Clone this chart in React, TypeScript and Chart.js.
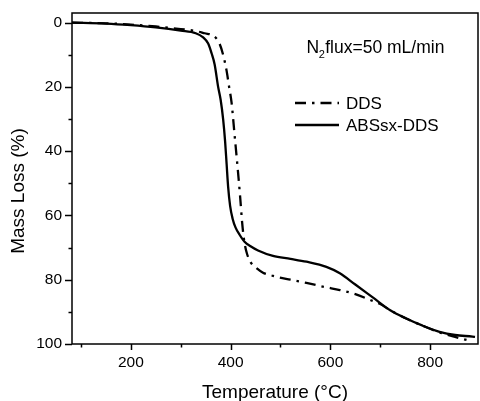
import React, { useEffect, useRef } from "react";
import { Chart, registerables } from "chart.js";

Chart.register(...registerables);

// ---- data ----
const ddsTemp = [82, 150, 200, 250, 300, 330, 348, 365, 372, 378, 385, 392, 397, 402, 408, 414, 419, 423, 426, 429, 433, 440, 449, 465, 485, 520, 552, 590, 619, 650, 680, 699, 720, 751, 785, 819, 850, 875];
const ddsLoss = [0, 0.2, 0.6, 1.2, 2.0, 2.6, 3.3, 4.0, 5.0, 6.6, 10, 15, 20, 25, 35, 45, 54, 62, 66.5, 69.5, 72, 74.5, 76, 77.8, 78.8, 80, 81, 82.3, 83.2, 84.5, 86.3, 87.5, 89.5, 92, 94.3, 96.4, 97.8, 98.8];

const absTemp = [82, 150, 200, 250, 300, 330, 345, 355, 362, 368, 375, 380, 385, 389, 392, 395, 399, 404, 410, 418, 428, 440, 455, 485, 520, 552, 592, 619, 650, 685, 720, 751, 785, 819, 850, 885, 890];
const absLoss = [0, 0.3, 0.8, 1.5, 2.5, 3.3, 4.6, 6.5, 9.6, 13, 20, 24, 30, 37, 44, 51, 57, 61, 63.8, 66, 68.2, 69.6, 70.9, 72.6, 73.5, 74.4, 76, 78, 81.5, 85.5, 89.5, 92, 94.3, 96.2, 97.2, 97.7, 97.8];

const seriesLabels = ["DDS", "ABSsx-DDS"];
const xMajorTicks = [200, 400, 600, 800];
const xMinorTicks = [100, 300, 500, 700];
const yMajorTicks = [0, 20, 40, 60, 80, 100];
const yMinorTicks = [10, 30, 50, 70, 90];
const xTitle = "Temperature (°C)";
const yTitle = "Mass Loss (%)";
const noteMain = "N";
const noteSub = "2";
const noteRest = "flux=50 mL/min";

const FONT = "Arial, 'Liberation Sans', Helvetica, sans-serif";
const DASH_DOT = [11, 6, 2.5, 6];

const decorPlugin = {
  id: "decor",
  afterDraw(chart: any) {
    const { ctx, chartArea: a, scales } = chart;
    const x = scales.x;
    const y = scales.y;
    ctx.save();
    ctx.strokeStyle = "#000";
    ctx.lineWidth = 1.5;
    ctx.setLineDash([]);
    ctx.strokeRect(a.left, a.top, a.right - a.left, a.bottom - a.top);

    ctx.beginPath();
    for (const v of xMajorTicks) {
      const px = Math.round(x.getPixelForValue(v)) + 0.5;
      ctx.moveTo(px, a.bottom);
      ctx.lineTo(px, a.bottom + 6);
    }
    for (const v of xMinorTicks) {
      const px = Math.round(x.getPixelForValue(v)) + 0.5;
      ctx.moveTo(px, a.bottom);
      ctx.lineTo(px, a.bottom + 3.5);
    }
    for (const v of yMajorTicks) {
      const py = Math.round(y.getPixelForValue(v)) + 0.5;
      ctx.moveTo(a.left, py);
      ctx.lineTo(a.left - 7, py);
    }
    for (const v of yMinorTicks) {
      const py = Math.round(y.getPixelForValue(v)) + 0.5;
      ctx.moveTo(a.left, py);
      ctx.lineTo(a.left - 3.5, py);
    }
    ctx.stroke();

    ctx.fillStyle = "#000";
    // axis titles
    ctx.font = `19px ${FONT}`;
    ctx.textAlign = "center";
    ctx.textBaseline = "middle";
    ctx.fillText(xTitle, (a.left + a.right) / 2, a.bottom + 49);
    ctx.save();
    ctx.translate(19, 191);
    ctx.rotate(-Math.PI / 2);
    ctx.fillText(yTitle, 0, 0);
    ctx.restore();

    // note
    ctx.textAlign = "left";
    ctx.textBaseline = "alphabetic";
    const nx = a.left + 234.5;
    const ny = 52.5;
    ctx.font = `17.5px ${FONT}`;
    ctx.fillText(noteMain, nx, ny);
    const nw = ctx.measureText(noteMain).width;
    ctx.font = `11px ${FONT}`;
    ctx.fillText(noteSub, nx + nw - 0.5, ny + 5);
    const sw = ctx.measureText(noteSub).width;
    ctx.font = `17.5px ${FONT}`;
    ctx.fillText(noteRest, nx + nw + sw, ny);

    // legend
    const lx0 = a.left + 223;
    const lx1 = a.left + 267;
    const ly = [103, 125];
    const dashes = [DASH_DOT, []];
    ctx.lineWidth = 2.3;
    for (let i = 0; i < 2; i++) {
      ctx.setLineDash(dashes[i]);
      ctx.beginPath();
      ctx.moveTo(lx0, ly[i]);
      ctx.lineTo(lx1, ly[i]);
      ctx.stroke();
    }
    ctx.setLineDash([]);
    ctx.font = `17px ${FONT}`;
    ctx.textBaseline = "middle";
    for (let i = 0; i < 2; i++) {
      ctx.fillText(seriesLabels[i], a.left + 274, ly[i] + 1);
    }
    ctx.restore();
  },
};

export default function App() {
  const ref = useRef<HTMLCanvasElement | null>(null);
  useEffect(() => {
    if (!ref.current) return;
    const chart = new Chart(ref.current, {
      type: "line",
      data: {
        datasets: [
          {
            label: seriesLabels[0],
            data: ddsTemp.map((t, i) => ({ x: t, y: ddsLoss[i] })),
            borderColor: "#000",
            borderWidth: 2.3,
            borderDash: DASH_DOT,
            pointRadius: 0,
            cubicInterpolationMode: "monotone",
            fill: false,
          },
          {
            label: seriesLabels[1],
            data: absTemp.map((t, i) => ({ x: t, y: absLoss[i] })),
            borderColor: "#000",
            borderWidth: 2.3,
            pointRadius: 0,
            cubicInterpolationMode: "monotone",
            fill: false,
          },
        ],
      },
      options: {
        responsive: false,
        animation: false,
        devicePixelRatio: 1,
        layout: { autoPadding: false, padding: { top: 13, right: 2, left: 0, bottom: 0 } },
        plugins: { legend: { display: false }, tooltip: { enabled: false } },
        scales: {
          x: {
            type: "linear",
            min: 82,
            max: 896,
            afterFit: (s: any) => {
              s.height = 57;
              s.paddingLeft = 0;
              s.paddingRight = 0;
            },
            afterBuildTicks: (s: any) => {
              s.ticks = xMajorTicks.map((v) => ({ value: v }));
            },
            grid: { display: true, drawOnChartArea: false, drawTicks: false },
            border: { display: false },
            ticks: {
              padding: 9,
              color: "#000",
              font: { family: FONT, size: 15.5 },
              maxRotation: 0,
              autoSkip: false,
            },
          },
          y: {
            type: "linear",
            min: -3,
            max: 100,
            reverse: true,
            afterFit: (s: any) => {
              s.width = 72;
              s.paddingTop = 0;
              s.paddingBottom = 0;
            },
            afterBuildTicks: (s: any) => {
              s.ticks = yMajorTicks.map((v) => ({ value: v }));
            },
            grid: { display: true, drawOnChartArea: false, drawTicks: false },
            border: { display: false },
            ticks: {
              padding: 10,
              color: "#000",
              font: { family: FONT, size: 15.5 },
              autoSkip: false,
            },
          },
        },
      },
      plugins: [decorPlugin],
    });
    return () => chart.destroy();
  }, []);
  return (
    <div style={{ position: "absolute", left: 0, top: 0, width: 480, height: 401, background: "#fff" }}>
      <canvas ref={ref} width={480} height={401} style={{ display: "block", width: 480, height: 401 }} />
    </div>
  );
}
